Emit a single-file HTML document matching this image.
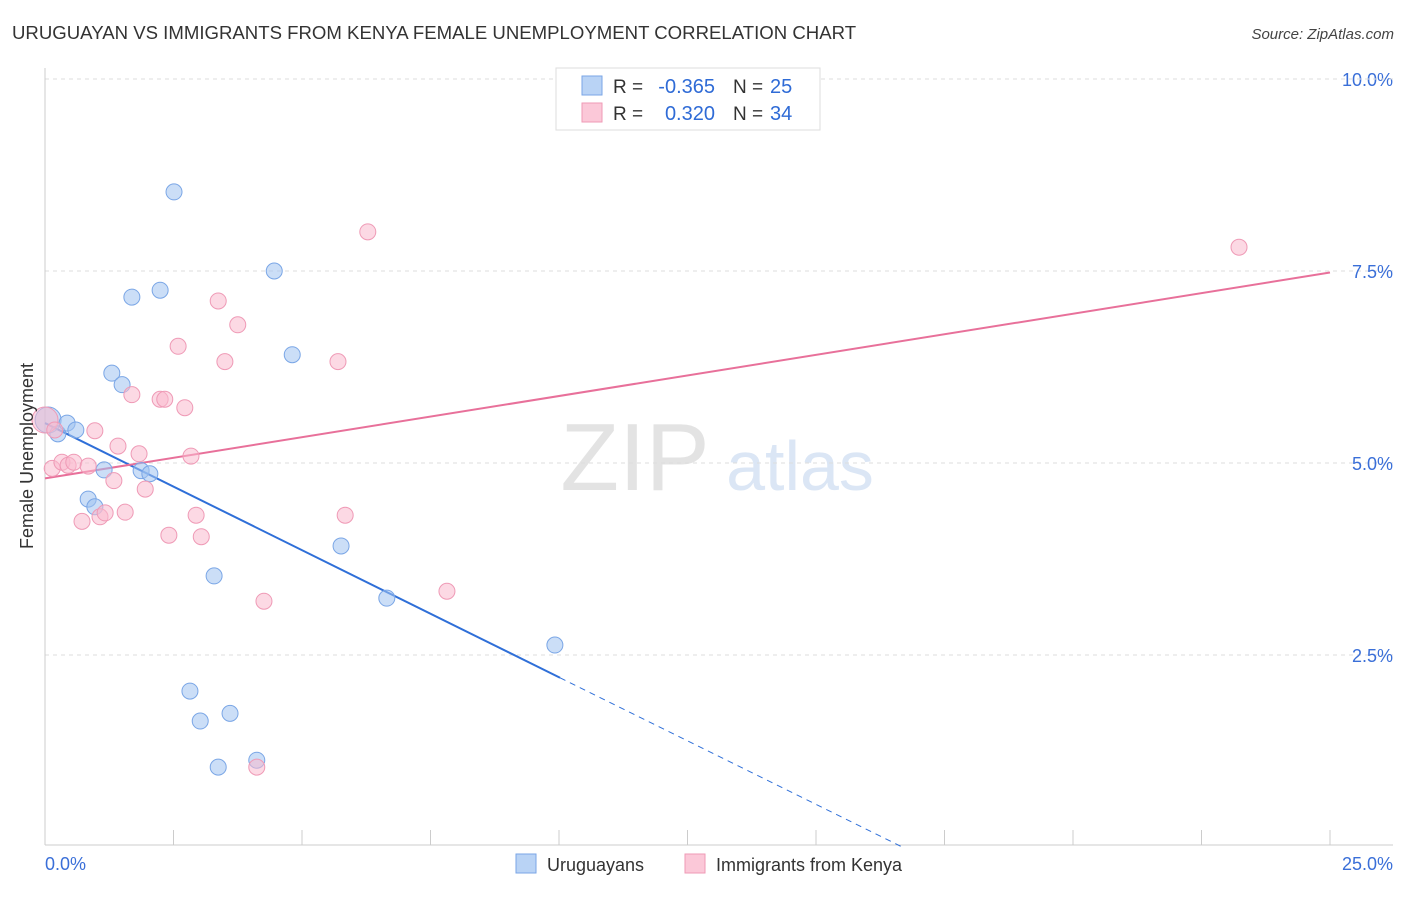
<!DOCTYPE html>
<html><head><meta charset="utf-8"><style>
body{margin:0;background:#fff;font-family:"Liberation Sans",sans-serif;}
svg text{font-family:"Liberation Sans",sans-serif;}
</style></head><body>
<svg id="chart" width="1406" height="892" xmlns="http://www.w3.org/2000/svg">
<text x="12" y="39" font-size="18.6" fill="#333">URUGUAYAN VS IMMIGRANTS FROM KENYA FEMALE UNEMPLOYMENT CORRELATION CHART</text>
<text x="1394" y="39" font-size="15" fill="#444" text-anchor="end" font-style="italic">Source: ZipAtlas.com</text>
<g>
<text x="635" y="490" font-size="96" fill="#e3e3e3" text-anchor="middle" font-family="Liberation Serif">ZIP</text>
<text x="800" y="490" font-size="70" fill="#dbe6f5" text-anchor="middle">atlas</text>
</g>
<g id="grid"></g>
<g id="axes"></g>
<g id="lines"></g>
<g id="pts"></g>
<text transform="translate(33,456) rotate(-90)" font-size="18" fill="#333" text-anchor="middle">Female Unemployment</text>
<g>
<rect x="556" y="68" width="264" height="62" fill="#fff" stroke="#ddd"/>
<rect x="582" y="76" width="20" height="19" fill="#b9d3f5" stroke="#7aa6e6"/>
<rect x="582" y="103" width="20" height="19" fill="#fbc8d8" stroke="#ef9ab6"/>
<text x="613" y="93" font-size="19" fill="#333">R =</text>
<text x="715" y="93" font-size="20" fill="#2f6bd6" text-anchor="end">-0.365</text>
<text x="733" y="93" font-size="19" fill="#333">N =</text>
<text x="770" y="93" font-size="20" fill="#2f6bd6">25</text>
<text x="613" y="120" font-size="19" fill="#333">R =</text>
<text x="715" y="120" font-size="20" fill="#2f6bd6" text-anchor="end">0.320</text>
<text x="733" y="120" font-size="19" fill="#333">N =</text>
<text x="770" y="120" font-size="20" fill="#2f6bd6">34</text>
</g>
<g>
<rect x="516" y="854" width="20" height="19" fill="#b9d3f5" stroke="#7aa6e6"/>
<text x="547" y="871" font-size="18" fill="#333">Uruguayans</text>
<rect x="685" y="854" width="20" height="19" fill="#fbc8d8" stroke="#ef9ab6"/>
<text x="716" y="871" font-size="18" fill="#333">Immigrants from Kenya</text>
</g>
</svg>
<script>
const blueX=[0.06,0.25,0.43,0.60,1.30,1.50,1.15,0.84,0.97,1.87,2.04,1.69,2.24,2.51,4.46,4.81,3.29,2.82,3.02,3.60,3.37,4.12,5.76,6.65,9.92];
const blueY=[5.56,5.38,5.52,5.43,6.17,6.02,4.91,4.53,4.43,4.90,4.86,7.16,7.25,8.53,7.50,6.41,3.53,2.03,1.64,1.74,1.04,1.13,3.92,3.24,2.63];
const pinkX=[0.0,0.19,0.14,0.33,0.45,0.56,0.84,0.72,0.97,1.07,1.17,1.34,1.42,1.56,1.69,1.83,1.95,2.24,2.33,2.41,2.59,2.72,2.84,2.94,3.04,3.37,3.50,3.75,4.12,4.26,5.70,5.84,6.28,7.82,23.23];
const pinkY=[5.56,5.43,4.93,5.01,4.97,5.01,4.96,4.24,5.42,4.30,4.35,4.77,5.22,4.36,5.89,5.12,4.66,5.83,5.83,4.06,6.52,5.72,5.09,4.32,4.04,7.11,6.32,6.80,1.04,3.20,6.32,4.32,8.01,3.33,7.81];
const blueTrend=[5.52,-0.331];
const pinkTrend=[4.80,0.1072];
const yTicks=[2.5,5.0,7.5,10.0];
const xTickLabels=["0.0%","25.0%"];
const NS="http://www.w3.org/2000/svg";
const sx=v=>45+v/25*1285, sy=v=>847-v*76.8;
function mk(p,t,a){const e=document.createElementNS(NS,t);for(const k in a)e.setAttribute(k,a[k]);document.getElementById(p).appendChild(e);return e;}
yTicks.forEach(t=>{
 const l=mk('grid','line',{x1:45,x2:1393,y1:sy(t),y2:sy(t),stroke:'#ddd','stroke-dasharray':'4,4'});
 
 
 const tx=mk('grid','text',{x:1393,y:sy(t)+7,'font-size':18,fill:'#3a6fd8','text-anchor':'end'});
 tx.textContent=t.toFixed(1)+'%';
 
 
});
const topGrid=mk('grid','line',{x1:45,x2:1393,y1:79,y2:79,stroke:'#ddd','stroke-dasharray':'4,4'});


const xa=mk('axes','line',{x1:45,x2:1393,y1:845,y2:845,stroke:'#ccc'});


const ya=mk('axes','line',{x1:45,x2:45,y1:68,y2:845,stroke:'#ccc'});


for(let i=0;i<=10;i++){
 const t=mk('axes','line',{x1:sx(i*2.5),x2:sx(i*2.5),y1:830,y2:845,stroke:'#ccc'});
 
 
}
[[0,'start',45],[25,'end',1393]].forEach((d,i)=>{
 const tx=mk('axes','text',{x:d[2],y:870,'font-size':18,fill:'#3a6fd8','text-anchor':d[1]});
 tx.textContent=xTickLabels[i];
 
 
});
const bEnd=10.02, bZero=-blueTrend[0]/blueTrend[1];
let ln=mk('lines','line',{x1:sx(0),y1:sy(blueTrend[0]),x2:sx(bEnd),y2:sy(blueTrend[0]+blueTrend[1]*bEnd),stroke:'#2f6fd8','stroke-width':2});


ln=mk('lines','line',{x1:sx(bEnd),y1:sy(blueTrend[0]+blueTrend[1]*bEnd),x2:sx(bZero),y2:sy(0),stroke:'#2f6fd8','stroke-width':1,'stroke-dasharray':'6,5'});


ln=mk('lines','line',{x1:sx(0),y1:sy(pinkTrend[0]),x2:sx(25),y2:sy(pinkTrend[0]+pinkTrend[1]*25),stroke:'#e8709a','stroke-width':2});


blueX.forEach((x,i)=>{
 const c=mk('pts','circle',{cx:sx(x),cy:sy(blueY[i]),r:i==0?13:8,fill:'rgba(160,195,240,0.55)',stroke:'#7aa6e6','stroke-width':1});
 
 
});
pinkX.forEach((x,i)=>{
 const c=mk('pts','circle',{cx:sx(x),cy:sy(pinkY[i]),r:i==0?13:8,fill:'rgba(250,185,205,0.55)',stroke:'#ef9ab6','stroke-width':1});
 
 
});
</script>
</body></html>
